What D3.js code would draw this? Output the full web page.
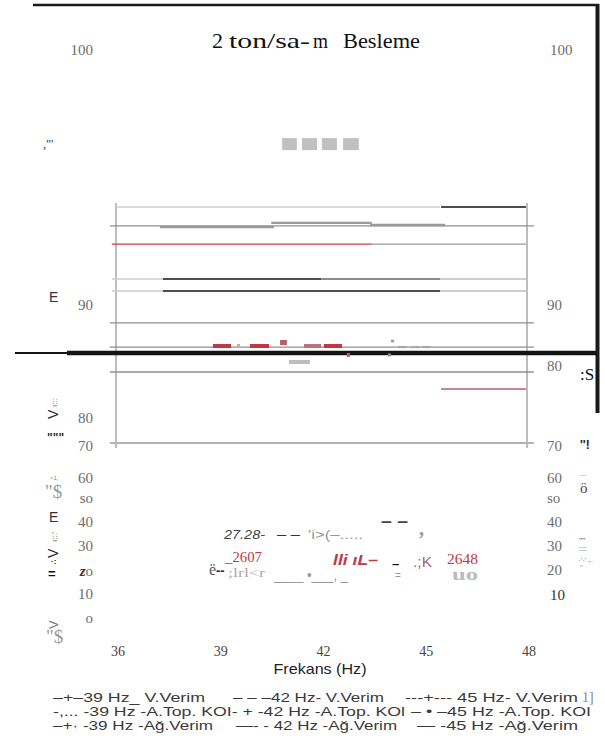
<!DOCTYPE html>
<html>
<head>
<meta charset="utf-8">
<script src="https://cdn.jsdelivr.net/npm/d3@7"></script>
<style>
  html, body { margin: 0; padding: 0; background: #fff; }
  svg { display: block; }
</style>
</head>
<body>
<svg id="chart" width="605" height="744"></svg>
<script>
// ---- values ----
const freqTicks = [36, 39, 42, 45, 48];
const leftTickValues = [100, 90, 80, 70, 60, 50, 40, 30, 20, 10, 0];
const leftTickLabels = ["100", "90", "80", "70", "60", "so", "40", "30", "zo", "10", "o"];
const rightTickValues = [100, 90, 80, 70, 60, 50, 40, 30, 20, 10];
const rightTickLabels = ["100", "90", "80", "70", "60", "so", "40", "30", "20", "10"];

// reference levels across the frequency range
const gridLevels = [93.10, 88.41, 86.28, 84.07];
const baseLevel = 71.07;

// step segments: [fromHz, toHz, value, series]
const levelSegments = [
  [36.00, 45.46, 93.84, "v45"],
  [45.49, 47.97, 93.84, "v42"],
  [37.28, 40.61, 93.06, "k39"],
  [40.53, 43.47, 93.22, "k39"],
  [43.42, 45.61, 93.14, "k39"],
  [35.88, 43.47, 92.39, "a39"],
  [43.47, 47.97, 92.39, "k45"],
  [35.88, 37.37, 91.02, "v45"],
  [37.37, 41.99, 91.02, "a42"],
  [41.99, 45.46, 91.02, "k42"],
  [45.46, 47.97, 91.02, "a45"],
  [35.88, 37.37, 90.55, "v45"],
  [37.37, 45.46, 90.55, "a42"],
  [45.46, 47.97, 90.55, "a45"],
  [45.49, 47.97, 82.57, "v39"]
];

// heavy base level: [fromHz, toHz, value, kind]
const heavyLevel = [
  [33.05, 34.57, 85.75, "thin"],
  [34.57, 50.04, 85.75, "thick"]
];

// short blocks: [fromHz, toHz, value, kind]
const koiBlocks = [
  [38.83, 39.36, 86.37, "red"],
  [39.53, 39.62, 86.37, "pink"],
  [39.91, 40.47, 86.37, "red"],
  [40.79, 40.99, 86.68, "mauve"],
  [41.49, 41.99, 86.37, "rose"],
  [42.07, 42.60, 86.37, "red"],
  [44.03, 44.12, 86.81, "dot"],
  [44.23, 44.50, 86.28, "dash"],
  [44.61, 44.85, 86.28, "dash"],
  [44.93, 45.20, 86.28, "dash"],
  [41.05, 41.66, 84.96, "silver"],
  [42.74, 42.83, 85.58, "redTick"],
  [43.94, 44.03, 85.58, "grayTick"]
];

// swatch row: [fromHz, toHz, value]
const swatches = [
  [40.85, 41.28, 96.31],
  [41.43, 41.87, 96.31],
  [42.01, 42.45, 96.31],
  [42.63, 43.09, 96.31]
];

// plot frame extent (value range of the frame verticals)
const frameRange = [94.0, 69.4];
const gridExtent = [35.82, 48.20];

// ---- styles ----
const segStyle = {
  v45: { c: "#cdcdcd", w: 1.5 },
  v42: { c: "#4d4d4d", w: 2 },
  k39: { c: "#9a9a9a", w: 2.4 },
  a39: { c: "#c43a4c", w: 1.2 },
  k45: { c: "#999999", w: 1.2 },
  a42: { c: "#151515", w: 1.5 },
  k42: { c: "#666666", w: 1.5 },
  a45: { c: "#bdbdbd", w: 1.5 },
  v39: { c: "#b5606c", w: 1.5 }
};
const blockStyle = {
  red:      { c: "#c13545", h: 4 },
  pink:     { c: "#d9a0a8", h: 4 },
  mauve:    { c: "#b5616c", h: 5 },
  rose:     { c: "#b7737b", h: 4 },
  dot:      { c: "#9a9a9a", h: 2.5 },
  dash:     { c: "#a8a8a8", h: 2.2 },
  silver:   { c: "#bcbcbc", h: 4 },
  redTick:  { c: "#b5616c", h: 4 },
  grayTick: { c: "#8a8a8a", h: 3 }
};

// ---- scales ----
const x = d3.scaleLinear().domain([36, 48]).range([116, 527]);
const yL = d3.scaleLinear()
  .domain([0, 10, 20, 30, 40, 50, 60, 70, 80, 90, 100])
  .range([618, 594, 571, 546, 522, 498, 478, 446, 418, 305, 50]);
const yR = d3.scaleLinear()
  .domain([10, 20, 30, 40, 50, 60, 70, 80, 90, 100])
  .range([595, 570, 546, 522, 498, 478, 446, 366, 305, 50]);

const svg = d3.select("#chart");
svg.append("rect").attr("width", 605).attr("height", 744).attr("fill", "#fff");

const SERIF = "'Liberation Serif', 'Times New Roman', serif";
const SANS = "'Liberation Sans', Arial, sans-serif";

// outer frame strokes
svg.append("line").attr("x1", 33).attr("x2", 599).attr("y1", 5).attr("y2", 5)
  .attr("stroke", "#1a1a1a").attr("stroke-width", 2.5);
svg.append("line").attr("x1", 597.5).attr("x2", 597.5).attr("y1", 4).attr("y2", 413)
  .attr("stroke", "#1a1a1a").attr("stroke-width", 4);

// title
const title = svg.append("g").attr("font-family", SERIF).attr("font-size", 22).attr("fill", "#111");
title.append("text").attr("x", 212).attr("y", 48).text("2");
title.append("text").attr("x", 229).attr("y", 48).attr("textLength", 81).attr("lengthAdjust", "spacingAndGlyphs").text("ton/sa-");
title.append("text").attr("x", 313).attr("y", 48).attr("textLength", 15).attr("lengthAdjust", "spacingAndGlyphs").text("m");
title.append("text").attr("x", 343).attr("y", 48).attr("textLength", 77).attr("lengthAdjust", "spacingAndGlyphs").text("Besleme");

// swatch row
svg.append("g").selectAll("rect").data(swatches).join("rect")
  .attr("x", d => x(d[0])).attr("width", d => x(d[1]) - x(d[0]))
  .attr("y", d => yL(d[2]) - 6).attr("height", 12)
  .attr("fill", "#c0c0c0");

// frame verticals
svg.append("g").selectAll("line").data([36, 48]).join("line")
  .attr("x1", d => x(d)).attr("x2", d => x(d))
  .attr("y1", yL(frameRange[0])).attr("y2", yL(frameRange[1]))
  .attr("stroke", "#bdbdbd").attr("stroke-width", 2);

// reference levels
svg.append("g").selectAll("line").data(gridLevels).join("line")
  .attr("x1", x(gridExtent[0])).attr("x2", x(gridExtent[1]))
  .attr("y1", d => yL(d)).attr("y2", d => yL(d))
  .attr("stroke", "#8f8f8f").attr("stroke-width", 1.3);
svg.append("line")
  .attr("x1", x(gridExtent[0])).attr("x2", x(gridExtent[1]))
  .attr("y1", yL(baseLevel)).attr("y2", yL(baseLevel))
  .attr("stroke", "#b3b3b3").attr("stroke-width", 2);

// step segments
svg.append("g").selectAll("line").data(levelSegments).join("line")
  .attr("x1", d => x(d[0])).attr("x2", d => x(d[1]))
  .attr("y1", d => yL(d[2])).attr("y2", d => yL(d[2]))
  .attr("stroke", d => segStyle[d[3]].c)
  .attr("stroke-width", d => segStyle[d[3]].w);

// heavy base level
svg.append("g").selectAll("line").data(heavyLevel).join("line")
  .attr("x1", d => x(d[0])).attr("x2", d => x(d[1]))
  .attr("y1", d => yL(d[2])).attr("y2", d => yL(d[2]))
  .attr("stroke", "#141414")
  .attr("stroke-width", d => d[3] === "thick" ? 4.5 : 2);

// short blocks
svg.append("g").selectAll("rect").data(koiBlocks).join("rect")
  .attr("x", d => x(d[0])).attr("width", d => x(d[1]) - x(d[0]))
  .attr("y", d => yL(d[2]) - blockStyle[d[3]].h / 2)
  .attr("height", d => blockStyle[d[3]].h)
  .attr("fill", d => blockStyle[d[3]].c);

// value labels; a leading "z" is set heavier
function tickText(sel, label) {
  sel.each(function (d, i) {
    const t = d3.select(this);
    const s = label[i];
    if (s === "zo") {
      t.append("tspan").attr("font-weight", "bold").attr("font-style", "italic").attr("fill", "#333").text("z");
      t.append("tspan").text("o");
    } else {
      t.text(s);
    }
  });
}
svg.append("g").attr("font-family", SERIF).attr("font-size", 15).attr("fill", "#6e6e6e")
  .attr("text-anchor", "end")
  .selectAll("text").data(leftTickValues).join("text")
  .attr("x", 93).attr("y", d => yL(d)).attr("dy", "0.35em")
  .call(tickText, leftTickLabels);

svg.append("g").attr("font-family", SERIF).attr("font-size", 15).attr("fill", "#6e6e6e")
  .selectAll("text").data(rightTickValues).join("text")
  .attr("x", d => d === 100 || d === 10 ? 550 : 547).attr("y", d => yR(d)).attr("dy", "0.35em")
  .attr("fill", d => d === 10 ? "#333" : null)
  .call(tickText, rightTickLabels);

// frequency axis labels
svg.append("g").attr("font-family", SERIF).attr("font-size", 14).attr("fill", "#444")
  .attr("text-anchor", "middle")
  .selectAll("text").data(freqTicks).join("text")
  .attr("x", d => x(d) + 2).attr("y", 656)
  .text(d => d);
svg.append("text").attr("x", 320).attr("y", 674).attr("text-anchor", "middle")
  .attr("font-family", SANS).attr("font-size", 15).attr("fill", "#222")
  .attr("textLength", 93).attr("lengthAdjust", "spacingAndGlyphs")
  .text("Frekans (Hz)");

// side marks and stray glyphs
function put(t, px, py, opts = {}) {
  const el = svg.append("text").attr("x", px).attr("y", py)
    .attr("font-family", opts.f || SANS).attr("font-size", opts.s || 12)
    .attr("fill", opts.c || "#333").text(t);
  if (opts.w) el.attr("font-weight", opts.w);
  if (opts.i) el.attr("font-style", "italic");
  if (opts.len) el.attr("textLength", opts.len).attr("lengthAdjust", "spacingAndGlyphs");
  if (opts.rot) el.attr("transform", `rotate(${opts.rot},${px},${py})`);
  if (opts.a) el.attr("text-anchor", opts.a);
  return el;
}
put(",'''", 43, 148, { f: SERIF, s: 13, c: "#444" });
put("E", 49, 302, { s: 14, c: "#333" });

// left axis title fragments
put("ı:::", 57, 407, { s: 8, c: "#555", rot: -90 });
put("V", 58, 419, { s: 14, c: "#222", rot: -90 });
put("\"\"\"", 47, 442, { s: 12, c: "#333", w: "bold" });
put("<1;", 50, 480, { s: 6, c: "#888" });
put("\"$", 45, 498, { f: SERIF, s: 19, c: "#999" });
put("E", 49, 522, { s: 14, c: "#333" });
put("ı:::'", 57, 542, { s: 8, c: "#555", rot: -90 });
put("V", 58, 558, { s: 14, c: "#222", rot: -90 });
put("·:", 51, 564, { s: 8, c: "#111", w: "bold" });
put("=", 48, 578, { s: 13, c: "#111", w: "bold" });
put("V", 58, 629, { s: 13, c: "#777", rot: -90 });
put("\"$", 46, 643, { f: SERIF, s: 19, c: "#999" });

// right side fragments
put(":S", 580, 380, { f: SERIF, s: 17, c: "#111" });
put("''!", 580, 449, { s: 12, c: "#222", w: "bold" });
put("...", 580, 476, { s: 7, c: "#555" });
put("ö", 580, 493, { f: SERIF, s: 15, c: "#444" });
put("''''", 579, 543, { s: 8, c: "#444" });
put("::::", 579, 551, { s: 7, c: "#444" });
put("·'·'←", 578, 563, { s: 8, c: "#888" });
put("''", 580, 570, { s: 7, c: "#888" });

// in-plot annotation fragments
put("27.28-", 224, 539, { s: 13, c: "#444", i: true, len: 41 });
put("– –", 277, 539, { s: 13, c: "#333", len: 23 });
put("'i>(–.....", 308, 539, { s: 12, c: "#999", len: 55 });
put("– –", 381, 527, { s: 18, c: "#444", w: "bold", len: 27 });
put(",", 419, 535, { f: SERIF, s: 20, c: "#999", w: "bold" });
put("_2607", 225, 562, { f: SERIF, s: 14, c: "#c0394a", len: 37 });
put("ë", 209, 575, { f: SERIF, s: 16, c: "#555" });
put("--", 216, 575, { s: 13, c: "#222", w: "bold" });
put(";lrl<r", 228, 577, { f: SERIF, s: 12, c: "#aaa", len: 37 });
put("lli ıL–", 333, 565, { s: 15, c: "#c0394a", i: true, w: "bold", len: 45 });
put("–", 392, 568, { s: 13, c: "#111", w: "bold" });
put("=", 395, 579, { s: 10, c: "#999" });
put(".;K", 413, 567, { s: 14, c: "#a86470", len: 19 });
put("2648", 447, 564, { f: SERIF, s: 15, c: "#c0394a", len: 31 });
put("uo", 452, 580, { f: SERIF, s: 16, c: "#bbb", w: "bold", len: 26 });
put("____ •___, _", 274, 580, { s: 14, c: "#9a9a9a", len: 74 });

// legend
const lg = svg.append("g").attr("font-family", SANS).attr("font-size", 13).attr("fill", "#3a3a3a");
function leg(t, px, py, len, c) {
  lg.append("text").attr("x", px).attr("y", py).attr("textLength", len)
    .attr("lengthAdjust", "spacingAndGlyphs").attr("fill", c || null).text(t);
}
leg("–+–39 Hz_  V.Verim", 53, 702, 152);
leg("– – –42 Hz- V.Verim", 233, 702, 151);
leg("---+--- 45 Hz- V.Verim", 405, 702, 173);
put("1]", 582, 702, { f: SERIF, s: 14, c: "#888" });
leg("-,... -39 Hz -A.Top. KOI- + -42 Hz -A.Top. KOl", 53, 716, 352);
leg("– • –45 Hz -A.Top. KOI", 411, 716, 180);
leg("–+· -39 Hz -Ağ.Verim", 53, 730, 160);
leg("—- - 42 Hz -Ağ.Verim", 236, 730, 161);
leg("— -45 Hz -Ağ.Verim", 417, 730, 161);
</script>
</body>
</html>
